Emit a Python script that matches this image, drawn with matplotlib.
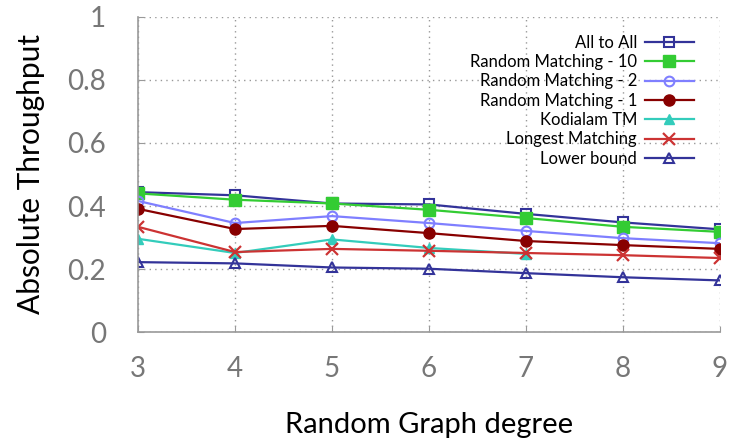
import matplotlib
matplotlib.use("Agg")
import matplotlib.pyplot as plt

degrees = [3, 4, 5, 6, 7, 8, 9]
all_to_all = [0.444, 0.434, 0.408, 0.405, 0.375, 0.348, 0.326]
rm10 = [0.440, 0.420, 0.408, 0.388, 0.362, 0.334, 0.318]
rm2 = [0.416, 0.346, 0.368, 0.346, 0.321, 0.298, 0.282]
rm1 = [0.391, 0.327, 0.337, 0.314, 0.289, 0.276, 0.264]
kodialam_x = [3, 4, 5, 6, 7]
kodialam = [0.296, 0.251, 0.294, 0.267, 0.248]
longest = [0.334, 0.254, 0.264, 0.258, 0.251, 0.244, 0.235]
lower = [0.222, 0.218, 0.205, 0.201, 0.187, 0.174, 0.164]

labels = ["All to All", "Random Matching - 10", "Random Matching - 2",
          "Random Matching - 1", "Kodialam TM", "Longest Matching", "Lower bound"]
yticks = [0, 0.2, 0.4, 0.6, 0.8, 1]
yticklabels = ["0", "0.2", "0.4", "0.6", "0.8", "1"]

plt.rcParams['font.family'] = ['Lato', 'DejaVu Sans']

fig = plt.figure(figsize=(7.32, 4.44), dpi=100)
ax = fig.add_axes([0.1885, 0.252, 0.795, 0.71])

lw = 1.6
ms = 7
ax.plot(degrees, all_to_all, color='#333399', lw=lw, marker='s', ms=ms,
        mfc='none', mec='#333399', mew=1.5, label=labels[0])
ax.plot(degrees, rm10, color='#33cc33', lw=lw, marker='s', ms=ms + 1,
        mfc='#33cc33', mec='#33cc33', label=labels[1])
ax.plot(degrees, rm2, color='#7f7fff', lw=lw, marker='o', ms=ms,
        mfc='none', mec='#7f7fff', mew=1.5, label=labels[2])
ax.plot(degrees, rm1, color='#880000', lw=lw, marker='o', ms=ms + 1,
        mfc='#880000', mec='#880000', label=labels[3])
ax.plot(kodialam_x, kodialam, color='#33ccbb', lw=lw, marker='^', ms=ms,
        mfc='#33ccbb', mec='#33ccbb', label=labels[4])
ax.plot(degrees, longest, color='#cc3333', lw=lw, marker='x', ms=ms + 1,
        mew=1.6, label=labels[5])
ax.plot(degrees, lower, color='#333399', lw=lw, marker='^', ms=ms,
        mfc='none', mec='#333399', mew=1.5, label=labels[6])

ax.set_xlim(3, 9)
ax.set_ylim(0, 1)
ax.set_xticks(degrees)
ax.set_yticks(yticks)
ax.set_yticklabels(yticklabels)

for s in ['top', 'right']:
    ax.spines[s].set_visible(False)
for s in ['left', 'bottom']:
    ax.spines[s].set_color('#999999')
    ax.spines[s].set_linewidth(1.2)

ax.tick_params(axis='both', direction='in', length=4, color='#999999',
               labelsize=20, labelcolor='#777777')
ax.tick_params(axis='x', pad=17)
ax.tick_params(axis='y', pad=23)
ax.grid(True, linestyle=(0, (1, 3)), color='#999999', lw=1)

ax.set_xlabel("Random Graph degree", fontsize=21, labelpad=22)
ax.set_ylabel("Absolute Throughput", fontsize=21.5, labelpad=16)

leg = ax.legend(loc='upper right', bbox_to_anchor=(0.972, 0.975), frameon=False,
                markerfirst=False, fontsize=12, handlelength=2.9,
                labelspacing=0.2, borderaxespad=0.2, handletextpad=0.5)

fig.savefig("out.png", dpi=100)
